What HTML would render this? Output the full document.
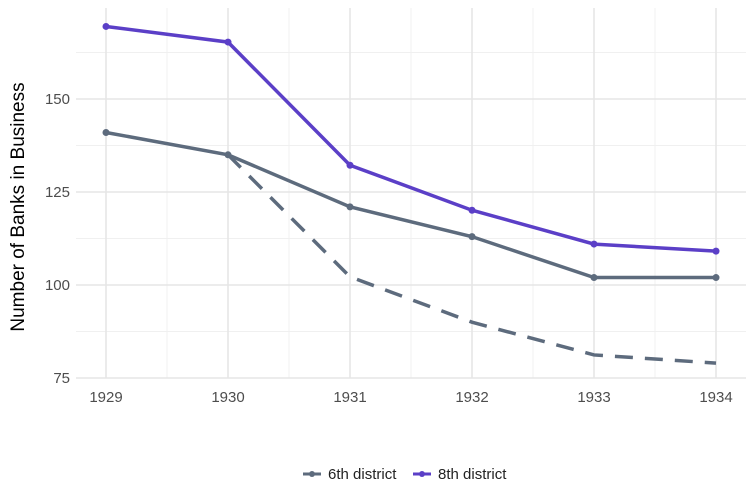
<!DOCTYPE html>
<html><head><meta charset="utf-8"><style>
body{margin:0;background:#fff;}
svg{display:block;font-family:"Liberation Sans",sans-serif;}
</style></head><body>
<svg id="chart" width="756" height="504">
<g id="grid"></g><g id="marks"></g><g id="axes"></g>
<text transform="translate(24,207) rotate(-90)" text-anchor="middle" font-size="19" fill="#000">Number of Banks in Business</text>
<g>
 <g>
  <line x1="303" y1="474" x2="321" y2="474" stroke="#5d6b7d" stroke-width="3"/><circle cx="312" cy="474" r="3" fill="#5d6b7d"/>
  <text x="328" y="479" font-size="15" fill="#222">6th district</text></g>
 <g>
  <line x1="413" y1="474" x2="431" y2="474" stroke="#5b3fc7" stroke-width="3"/><circle cx="422" cy="474" r="3" fill="#5b3fc7"/>
  <text x="438" y="479" font-size="15" fill="#222">8th district</text></g>
</g>
</svg>
<script>
const years=[1929,1930,1931,1932,1933,1934];
const sixth=[141,135,121,113,102,102];
const eighth=[169.5,165.3,132.2,120.1,111,109.1];
const sixthDashYears=[1930,1931,1932,1933,1934];
const sixthDash=[135,102.2,90,81.2,79];
const yTicks=[75,100,125,150];
const NS="http://www.w3.org/2000/svg";
const x=v=>106+(v-1929)*122;
const y=v=>378-(v-75)*3.72;
function mk(tag,attrs,parent){const e=document.createElementNS(NS,tag);for(const k in attrs)e.setAttribute(k,attrs[k]);document.getElementById(parent).appendChild(e);return e;}
const L=76,R=746,T=8,B=378;
for(let i=0;i<years.length-1;i++){const e=mk('line',{x1:x(years[i]+0.5),x2:x(years[i]+0.5),y1:T,y2:B,stroke:'#f0f0f0','stroke-width':1},'grid');

}
for(let v=87.5;v<175;v+=25){const e=mk('line',{x1:L,x2:R,y1:y(v),y2:y(v),stroke:'#f0f0f0','stroke-width':1},'grid');

}
years.forEach(yr=>{const e=mk('line',{x1:x(yr),x2:x(yr),y1:T,y2:B,stroke:'#e6e6e6','stroke-width':1.6},'grid');


const t=mk('text',{x:x(yr),y:402,'text-anchor':'middle','font-size':15,fill:'#4d4d4d'},'axes');t.textContent=yr;

});
yTicks.forEach(v=>{const e=mk('line',{x1:L,x2:R,y1:y(v),y2:y(v),stroke:'#e6e6e6','stroke-width':1.6},'grid');


const t=mk('text',{x:70,y:y(v)+5,'text-anchor':'end','font-size':15,fill:'#4d4d4d'},'axes');t.textContent=v;

});
function path(xs,vs){return xs.map((a,i)=>(i?'L':'M')+x(a)+','+y(vs[i])).join(' ');}
const d=mk('path',{d:path(sixthDashYears,sixthDash),fill:'none',stroke:'#5d6b7d','stroke-width':3.5,'stroke-dasharray':'18,12'},'marks');


[[sixth,'#5d6b7d','6th'],[eighth,'#5b3fc7','8th']].forEach(([vs,c,n])=>{
const p=mk('path',{d:path(years,vs),fill:'none',stroke:c,'stroke-width':3.5},'marks');


vs.forEach((v,i)=>{const q=mk('circle',{cx:x(years[i]),cy:y(v),r:3.5,fill:c},'marks');

});});
</script>
</body></html>
